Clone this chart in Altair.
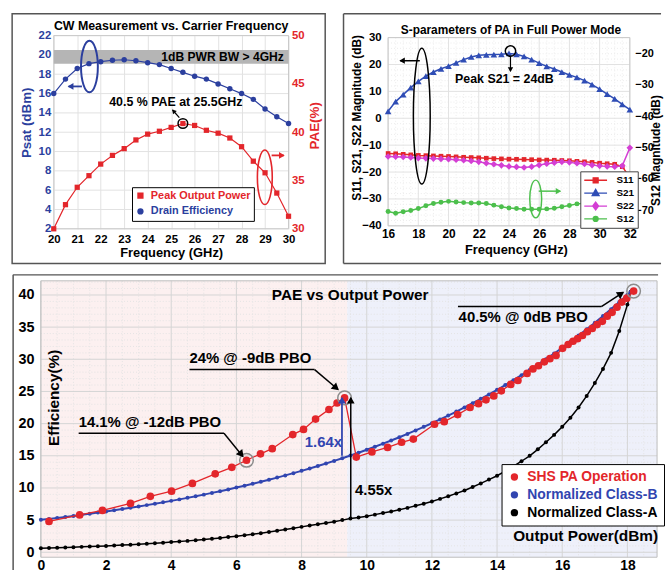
import math
import altair as alt
import pandas as pd

FONT = "Liberation Sans"
BLUE = "#2b3f9e"
RED = "#e3262b"
S21C = "#2f4db5"
MAG = "#d43fd4"
GREEN = "#4cbf4c"
BBLUE = "#3145b0"
FRAMEC = "#555555"
GRIDC = "#e2e2e2"
MINORC = "#ececec"
BOXC = "#c8c8c8"

# ---------------- data: top-left panel ----------------
tl_freq = [20.0, 20.5, 21.0, 21.5, 22.0, 22.5, 23.0, 23.5, 24.0, 24.5, 25.0,
           25.5, 26.0, 26.5, 27.0, 27.5, 28.0, 28.5, 29.0, 29.5, 30.0]
tl_psat = [16.0, 17.5, 18.6, 19.1, 19.3, 19.45, 19.5, 19.4, 19.2, 19.0, 18.6,
           18.2, 17.8, 17.5, 17.0, 16.5, 16.0, 15.4, 14.4, 13.6, 12.9]
tl_pae = [30.0, 32.5, 34.3, 35.5, 36.7, 37.6, 38.3, 39.2, 39.8, 40.1, 40.5,
          40.9, 40.7, 40.2, 39.9, 39.4, 38.5, 37.0, 35.8, 33.7, 31.3]
tl_series = ["Peak Output Power", "Drain Efficiency"]
tl_xticks = [20, 21, 22, 23, 24, 25, 26, 27, 28, 29, 30]
tl_lticks = [2, 4, 6, 8, 10, 12, 14, 16, 18, 20, 22]
tl_rticks = [30, 35, 40, 45, 50]

# ---------------- data: top-right panel ----------------
tr_freq = [16.0, 16.5, 17.0, 17.5, 18.0, 18.5, 19.0, 19.5, 20.0, 20.5, 21.0,
           21.5, 22.0, 22.5, 23.0, 23.5, 24.0, 24.5, 25.0, 25.5, 26.0, 26.5,
           27.0, 27.5, 28.0, 28.5, 29.0, 29.5, 30.0, 30.5, 31.0, 31.5, 32.0]
tr_s21 = [2.6, 6.2, 8.8, 11.4, 13.7, 15.7, 17.2, 18.4, 19.4, 20.6, 21.8,
          22.8, 23.4, 23.6, 23.7, 23.8, 24.1, 23.8, 23.0, 21.8, 20.5, 19.3,
          18.3, 17.2, 16.1, 15.2, 14.0, 12.5, 10.8, 9.0, 7.2, 5.2, 3.2]
tr_s11 = [-13.1, -13.2, -13.4, -13.6, -13.8, -13.9, -14.0, -14.1, -14.2, -14.35, -14.5,
          -14.6, -14.7, -14.85, -15.0, -15.1, -15.2, -15.25, -15.3, -15.4, -15.5, -15.55,
          -15.6, -15.7, -15.8, -16.0, -16.2, -16.4, -16.7, -16.9, -17.1, -18.0, -22.0]
tr_s22 = [-14.2, -14.3, -14.4, -14.6, -14.8, -14.9, -15.0, -15.1, -15.2, -15.4, -15.6,
          -15.9, -16.2, -16.7, -17.1, -17.5, -17.9, -18.1, -18.3, -18.0, -17.4, -16.9,
          -16.5, -16.2, -16.4, -16.7, -17.0, -17.4, -17.7, -17.9, -18.0, -17.7, -11.0]
tr_s12 = [-70.4, -71.0, -70.5, -70.1, -69.5, -68.6, -67.9, -67.5, -67.2, -67.4, -67.6,
          -67.7, -67.7, -67.9, -68.4, -68.9, -69.3, -69.5, -69.7, -69.7, -69.7, -69.6,
          -69.4, -68.9, -68.5, -68.0, -67.8, -67.4, -67.4, -67.6, -67.6, -67.5, -67.2]
tr_series = ["S11", "S21", "S22", "S12"]
tr_xticks = [16, 18, 20, 22, 24, 26, 28, 30, 32]
tr_lticks = [-40, -30, -20, -10, 0, 10, 20, 30]
tr_rticks = [-70, -60, -50, -40, -30, -20]

# ---------------- data: bottom panel ----------------
bot_red_x = [0.25, 1.19, 1.89, 2.75, 3.36, 4.01, 4.65, 5.35, 5.86, 6.31, 6.74, 7.10,
             7.73, 8.06, 8.43, 8.84, 9.09, 9.32, 9.68, 10.16, 10.64, 11.07, 11.43,
             12.08, 12.38, 12.79, 13.17, 13.43, 13.66, 13.90, 14.13, 14.42, 14.64,
             14.92, 15.10, 15.27, 15.45, 15.62, 15.81, 16.01, 16.18, 16.33, 16.47,
             16.62, 16.77, 16.92, 17.07, 17.23, 17.38, 17.53, 17.68, 17.83, 17.98, 18.19]
bot_red_y = [4.8, 5.8, 6.5, 7.6, 8.7, 9.5, 10.7, 12.2, 13.2, 14.3, 15.3, 16.1,
             18.3, 19.1, 20.7, 22.2, 23.2, 24.0, 14.8, 15.6, 16.3, 17.1, 17.6,
             19.9, 20.3, 21.4, 22.5, 23.1, 23.7, 24.3, 25.1, 26.1, 26.7,
             27.8, 28.5, 29.0, 29.6, 30.1, 30.6, 31.7, 32.3, 32.8, 33.2,
             33.7, 34.3, 34.8, 35.4, 35.9, 36.7, 37.3, 38.1, 38.9, 39.5, 40.6]
bot_ref_x = [i * 0.25 for i in range(73)] + [18.1]
bot_classb = [5.04, 5.19, 5.34, 5.49, 5.65, 5.82, 5.99, 6.17, 6.34, 6.53, 6.72, 6.92,
              7.12, 7.33, 7.54, 7.76, 7.99, 8.22, 8.46, 8.71, 8.96, 9.23, 9.49, 9.77,
              10.06, 10.35, 10.65, 10.96, 11.28, 11.61, 11.95, 12.30, 12.66, 13.03, 13.41, 13.80,
              14.20, 14.62, 15.04, 15.48, 15.94, 16.40, 16.88, 17.37, 17.88, 18.40, 18.94, 19.50,
              20.06, 20.65, 21.25, 21.87, 22.51, 23.17, 23.85, 24.54, 25.26, 26.00, 26.76, 27.54,
              28.34, 29.17, 30.02, 30.90, 31.80, 32.73, 33.69, 34.67, 35.68, 36.72, 37.80, 38.90,
              40.03, 40.5]
bot_classa = [0.63, 0.66, 0.70, 0.75, 0.79, 0.84, 0.89, 0.94, 0.99, 1.05, 1.12, 1.18,
              1.25, 1.33, 1.40, 1.49, 1.58, 1.67, 1.77, 1.87, 1.98, 2.10, 2.22, 2.36,
              2.50, 2.64, 2.80, 2.97, 3.14, 3.33, 3.53, 3.73, 3.95, 4.15, 4.35, 4.55,
              4.75, 5.00, 5.25, 5.42, 5.60, 5.85, 6.10, 6.35, 6.60, 6.90, 7.22, 7.55,
              7.90, 8.30, 8.70, 9.15, 9.60, 10.15, 10.70, 11.30, 11.90, 12.60, 13.35, 14.15,
              15.00, 16.00, 17.10, 18.25, 19.50, 20.90, 22.50, 24.30, 26.30, 28.50, 31.00, 34.40,
              38.50, 40.5]
bot_series = ["SHS PA Operation", "Normalized Class-B", "Normalized Class-A"]
bot_xticks = [0, 2, 4, 6, 8, 10, 12, 14, 16, 18]
bot_yticks = [0, 5, 10, 15, 20, 25, 30, 35, 40]


# ---------------- helpers ----------------
def lab(size, color="black", pad=3):
    return dict(labelFont=FONT, labelFontSize=size, labelFontWeight="bold",
                labelColor=color, labelPadding=pad, ticks=False, domain=False,
                labelFlush=False, labelOverlap=False)


def ttl(size, color, tx, ty, angle=0):
    return dict(titleFont=FONT, titleFontSize=size, titleFontWeight="bold",
                titleColor=color, titleAlign="center", titleBaseline="middle",
                titleX=tx, titleY=ty, titleAngle=angle)


class Ctx:
    def __init__(self, sx, sy, ax, ay, kx, ky):
        self.sx, self.sy, self.ax, self.ay, self.kx, self.ky = sx, sy, ax, ay, kx, ky

    def X(self, f):
        return alt.X(f, type="quantitative", scale=self.sx, axis=self.ax)

    def Y(self, f):
        return alt.Y(f, type="quantitative", scale=self.sy, axis=self.ay)


def one(**kw):
    return alt.Data(values=[kw])


def text_layer(c, x, y, t, size, color="black", align="center", angle=0):
    return alt.Chart(one(x=x, y=y, t=t)).mark_text(
        font=FONT, fontSize=size, fontWeight="bold", color=color, align=align,
        baseline="middle", angle=angle).encode(x=c.X("x"), y=c.Y("y"), text="t:N")


def arrow(c, x1, y1, x2, y2, color, width=1.5, head=45):
    shaft = alt.Chart(one(x=x1, y=y1, x2=x2, y2=y2)).mark_rule(
        color=color, strokeWidth=width).encode(
        x=c.X("x"), y=c.Y("y"), x2="x2:Q", y2="y2:Q")
    dx = (x2 - x1) * c.kx
    dy = -(y2 - y1) * c.ky
    n = math.hypot(dx, dy)
    ux, uy = dx / n, dy / n
    ang = math.degrees(math.atan2(dx, -dy)) % 360
    back = 0.3 * math.sqrt(head)
    hx = x2 - back * ux / c.kx
    hy = y2 + back * uy / c.ky
    tip = alt.Chart(one(x=hx, y=hy)).mark_point(
        shape="triangle-up", filled=True, color=color, size=head, angle=ang,
        opacity=1).encode(x=c.X("x"), y=c.Y("y"))
    return [shaft, tip]


def ellipse(c, xc, yc, w_px, h_px, color, width=1.8):
    a = w_px / h_px
    path = f"M0,-1A{a:.3f},1 0 1,1 0,1A{a:.3f},1 0 1,1 0,-1Z"
    return alt.Chart(one(x=xc, y=yc)).mark_point(
        shape=path, filled=False, color=color, strokeWidth=width, size=h_px ** 2,
        opacity=1).encode(x=c.X("x"), y=c.Y("y"))


def ring(c, xs, ys, color, size, width=1.5):
    return alt.Chart(pd.DataFrame({"x": xs, "y": ys})).mark_point(
        shape="circle", filled=False, color=color, size=size, strokeWidth=width,
        opacity=1).encode(x=c.X("x"), y=c.Y("y"))


def hseg(c, x1, x2, y, color="black", width=1.5):
    return alt.Chart(one(x=x1, x2=x2, y=y)).mark_rule(color=color, strokeWidth=width).encode(
        x=c.X("x"), x2="x2:Q", y=c.Y("y"))


def vrule(x0, y0, x1, y1, color=FRAMEC, width=1.5):
    return alt.Chart(one()).mark_rule(color=color, strokeWidth=width).encode(
        x=alt.value(x0), y=alt.value(y0), x2=alt.value(x1), y2=alt.value(y1))


def vgrid(c, vals, y0, y1, color, dash=None):
    kw = dict(color=color, strokeWidth=1)
    if dash:
        kw["strokeDash"] = dash
    return alt.Chart(pd.DataFrame({"g": vals})).mark_rule(**kw).encode(
        x=c.X("g"), y=alt.value(y0), y2=alt.value(y1))


def hgrid(c, vals, x0, x1, color, dash=None):
    kw = dict(color=color, strokeWidth=1)
    if dash:
        kw["strokeDash"] = dash
    return alt.Chart(pd.DataFrame({"g": vals})).mark_rule(**kw).encode(
        y=c.Y("g"), x=alt.value(x0), x2=alt.value(x1))


def rect(c, x1, x2, y1, y2, color):
    return alt.Chart(one(x=x1, x2=x2, y=y1, y2=y2)).mark_rect(color=color).encode(
        x=c.X("x"), x2="x2:Q", y=c.Y("y"), y2="y2:Q")


def box(c, x1, x2, y1, y2, color=BOXC):
    return alt.Chart(one(x=x1, x2=x2, y=y1, y2=y2)).mark_rect(
        fillOpacity=0, stroke=color, strokeWidth=1).encode(
        x=c.X("x"), x2="x2:Q", y=c.Y("y"), y2="y2:Q")


# ================= TOP-LEFT =================
# plot area origin placed 13 px left of the 20 GHz tick so that it lines up with the bottom panel
W1, H1 = 250, 195
KX1 = 237 / 10
KY1 = H1 / 20
SHIFT1 = 13
SX1 = alt.Scale(domain=[20 - SHIFT1 / KX1, 30], nice=False, zero=False)
SL1 = alt.Scale(domain=[2, 22], nice=False, zero=False)
SR1 = alt.Scale(domain=[30, 50], nice=False, zero=False)
tl_df = pd.DataFrame({"f": tl_freq, "psat": tl_psat, "pae": tl_pae})

ax_x1 = alt.Axis(values=tl_xticks, title="Frequency (GHz)", grid=True, gridColor=GRIDC,
                 **lab(11.5, pad=5), **ttl(13, "black", 131.5, 23.5))
ax_l1 = alt.Axis(values=tl_lticks, title=None, grid=False, offset=-SHIFT1, **lab(11.5, BLUE, 3))
ax_r1 = alt.Axis(values=tl_rticks, title=None, orient="right", grid=False, **lab(11.5, RED, 3))
C1 = Ctx(SX1, SL1, ax_x1, ax_l1, KX1, KY1)
C1R = Ctx(SX1, SR1, ax_x1, ax_r1, KX1, KY1)


def px1(px, py):
    """absolute reference pixel -> top-left data coords (left axis units)"""
    return 20 + (px - 53) / KX1, 22 - (py - 32) / KY1


tl_leg = alt.Legend(orient="none", legendX=92, legendY=153, title=None,
                    labelFont=FONT, labelFontSize=11, labelFontWeight="bold",
                    labelColor={"expr": f"datum.value == '{tl_series[0]}' ? '{RED}' : '{BLUE}'"},
                    strokeColor="black", fillColor="white", padding=3, rowPadding=3,
                    symbolSize=40, labelOffset=5, cornerRadius=0)

tl_left = [
    alt.Chart(one()).mark_rect(fillOpacity=0, stroke=FRAMEC, strokeWidth=1.5).encode(
        x=alt.value(-29), x2=alt.value(W1 + 37), y=alt.value(-22), y2=alt.value(H1 + 35)),
    hgrid(C1, tl_lticks, SHIFT1, W1, GRIDC),
    box(C1, 20, 30, 2, 22),
    rect(C1, 20, 30, 19.1, 20.5, "#b5b5b5"),
    text_layer(C1, 29.8, 19.8, "1dB PWR BW > 4GHz", 12.2, align="right"),
    text_layer(C1, 25.0, 22.95, "CW Measurement vs. Carrier Frequency", 12.5),
    text_layer(C1, *px1(26, 120), "Psat (dBm)", 13.5, color=BLUE, angle=270),
    text_layer(C1, *px1(317, 123), "PAE(%)", 13.5, color=RED, angle=270),
    alt.Chart(tl_df).mark_line(color=BLUE, strokeWidth=1.2).encode(x=C1.X("f"), y=C1.Y("psat")),
    alt.Chart(tl_df).mark_point(shape="circle", filled=True, color=BLUE, size=30, opacity=1).encode(
        x=C1.X("f"), y=C1.Y("psat")),
    text_layer(C1, 25.2, 15.1, "40.5 % PAE at 25.5GHz", 12.5),
    ellipse(C1, 21.52, 18.8, 17, 52, BLUE, 2),
    ellipse(C1, 28.99, 7.33, 15, 55, RED, 1.6),
    *arrow(C1, 21.2, 16.74, 20.63, 16.74, BLUE, 1.8, 45),
    *arrow(C1, 29.28, 9.6, 29.8, 9.6, RED, 1.8, 45),
    *arrow(C1, 25.35, 13.5, 25.06, 14.3, "black", 1.2, 25),
    alt.Chart(pd.DataFrame({"s": tl_series})).transform_filter("false").mark_point(
        filled=True, opacity=1, size=40).encode(
        fill=alt.Fill("s:N", scale=alt.Scale(domain=tl_series, range=[RED, BLUE]), legend=tl_leg),
        shape=alt.Shape("s:N", scale=alt.Scale(domain=tl_series, range=["square", "circle"]),
                        legend=tl_leg)),
]
tl_right = [
    alt.Chart(tl_df).mark_line(color=RED, strokeWidth=1.2).encode(x=C1R.X("f"), y=C1R.Y("pae")),
    alt.Chart(tl_df).mark_point(shape="square", filled=True, color=RED, size=28, opacity=1).encode(
        x=C1R.X("f"), y=C1R.Y("pae")),
    ring(C1R, [25.5], [40.9], "black", 95, 1.5),
]
tl_chart = alt.layer(alt.layer(*tl_left), alt.layer(*tl_right)).resolve_scale(
    y="independent").properties(width=W1, height=H1)

# ================= TOP-RIGHT =================
# plot area starts 2 px above the 30 dB line so that its top aligns with the left panel
W2, H2 = 244, 192
X0_2 = 388
KX2 = W2 / 16
KL2 = 190 / 70
KR2 = 190 / 60
YTOP2 = 30 + 2 / KL2
SX2 = alt.Scale(domain=[16, 32], nice=False, zero=False)
SL2 = alt.Scale(domain=[-40, YTOP2], nice=False, zero=False)
SR2 = alt.Scale(domain=[-75, -15 + 2 / KR2], nice=False, zero=False)
tr_df = pd.DataFrame({"f": tr_freq, "S11": tr_s11, "S21": tr_s21, "S22": tr_s22, "S12": tr_s12})

ax_x2 = alt.Axis(values=tr_xticks, title="Frequency (GHz)", grid=False,
                 **lab(12, pad=3), **ttl(13, "black", 129, 23.5))
ax_l2 = alt.Axis(values=tr_lticks, title=None, grid=False, **lab(11.5, pad=7))
ax_r2 = alt.Axis(values=tr_rticks, title=None, orient="right", grid=False, **lab(11, pad=5))
C2 = Ctx(SX2, SL2, ax_x2, ax_l2, KX2, KL2)
C2R = Ctx(SX2, SR2, ax_x2, ax_r2, KX2, KR2)


def px2(px, py):
    """absolute reference pixel -> top-right data coords (left axis units)"""
    return 16 + (px - X0_2) / KX2, YTOP2 - (py - 32) / KL2


tr_paths = [
    "M-2.3,0H2.3M-0.5,-0.5H0.5V0.5H-0.5Z",
    "M-2.3,0H2.3M0,-0.75L0.7,0.5H-0.7Z",
    "M-2.3,0H2.3M0,-0.8L0.6,0L0,0.8L-0.6,0Z",
    "M-2.3,0H2.3M-0.5,0A0.5,0.5 0 1,1 0.5,0A0.5,0.5 0 1,1 -0.5,0Z",
]
tr_colors = [RED, S21C, MAG, GREEN]
tr_leg = alt.Legend(orient="none", legendX=582 - X0_2, legendY=137, title=None,
                    labelFont=FONT, labelFontSize=10, labelFontWeight="bold",
                    labelColor="black", strokeColor="#444444", fillColor="white",
                    padding=3, rowPadding=0, symbolSize=100, symbolOffset=6.5,
                    labelOffset=15, symbolStrokeWidth=1.3, cornerRadius=0)

minor_x2 = [16 + 0.5 * i for i in range(33) if i % 4]
minor_y2 = [-40 + 2 * i for i in range(36) if i % 5]
FL2 = 343 - X0_2

tr_left = [
    vrule(FL2, -22, FL2, H2 + 38),
    vrule(FL2, -22, 663.5 - X0_2, -22),
    vrule(FL2, H2 + 38, 663.5 - X0_2, H2 + 38),
    vgrid(C2, minor_x2, 2, H2, MINORC, [1, 2]),
    hgrid(C2, minor_y2, 0, W2, MINORC, [1, 2]),
    vgrid(C2, tr_xticks, 2, H2, GRIDC),
    hgrid(C2, tr_lticks, 0, W2, GRIDC),
    box(C2, 16, 32, -40, 30),
    text_layer(C2, *px2(512, 26), "S-parameters of PA in Full Power Mode", 12),
    text_layer(C2, *px2(357, 115), "S11, S21, S22 Magnitude (dB)", 12, angle=270),
    text_layer(C2, *px2(658, 148), "S12 Magnitude (dB)", 12, angle=270),
    alt.Chart(tr_df).mark_line(color=S21C, strokeWidth=1.5).encode(x=C2.X("f"), y=C2.Y("S21")),
    alt.Chart(tr_df).mark_line(color=RED, strokeWidth=1.5).encode(x=C2.X("f"), y=C2.Y("S11")),
    alt.Chart(tr_df).mark_line(color=MAG, strokeWidth=1.5).encode(x=C2.X("f"), y=C2.Y("S22")),
    alt.Chart(tr_df).mark_point(shape="square", filled=True, color=RED, size=22, opacity=1).encode(
        x=C2.X("f"), y=C2.Y("S11")),
    alt.Chart(tr_df).mark_point(shape="diamond", filled=True, color=MAG, size=45, opacity=1).encode(
        x=C2.X("f"), y=C2.Y("S22")),
    alt.Chart(tr_df).mark_point(shape="triangle-up", filled=True, color=S21C, size=45, opacity=1).encode(
        x=C2.X("f"), y=C2.Y("S21")),
    ring(C2, [24.1], [25.0], "black", 110, 1.5),
    *arrow(C2, 24.1, 23.0, 24.1, 17.5, "black", 1.2, 30),
    text_layer(C2, 23.7, 14.5, "Peak S21 = 24dB", 12.5),
    ellipse(C2, 18.23, 0.8, 17, 137, "black", 1.5),
    *arrow(C2, 18.1, 21.4, 16.8, 21.4, "black", 1.5, 40),
    ellipse(C2, 25.77, -30.0, 12, 38, GREEN, 1.5),
    *arrow(C2, 25.97, -27.1, 27.4, -27.1, GREEN, 1.5, 40),
    alt.Chart(pd.DataFrame({"s": tr_series})).transform_filter("false").mark_point(
        filled=True, opacity=1, size=100, strokeWidth=1.3).encode(
        fill=alt.Fill("s:N", scale=alt.Scale(domain=tr_series, range=tr_colors), legend=tr_leg),
        stroke=alt.Stroke("s:N", scale=alt.Scale(domain=tr_series, range=tr_colors), legend=tr_leg),
        shape=alt.Shape("s:N", scale=alt.Scale(domain=tr_series, range=tr_paths), legend=tr_leg)),
]
tr_right = [
    alt.Chart(tr_df).mark_line(color=GREEN, strokeWidth=1.5).encode(x=C2R.X("f"), y=C2R.Y("S12")),
    alt.Chart(tr_df).mark_point(shape="circle", filled=True, color=GREEN, size=25, opacity=1).encode(
        x=C2R.X("f"), y=C2R.Y("S12")),
]
tr_chart = alt.layer(alt.layer(*tr_left), alt.layer(*tr_right)).resolve_scale(
    y="independent").properties(width=W2, height=H2)

# ================= BOTTOM =================
W3, H3 = 622, 279
XD3 = [0, 18.91]
YD3 = [-0.77, 42.2]
SX3 = alt.Scale(domain=XD3, nice=False, zero=False)
SY3 = alt.Scale(domain=YD3, nice=False, zero=False)
ax_x3 = alt.Axis(values=bot_xticks, title=None, grid=False, **lab(14, pad=1.5))
ax_y3 = alt.Axis(values=bot_yticks, title=None, grid=False, **lab(14.5, pad=7))
C3 = Ctx(SX3, SY3, ax_x3, ax_y3, W3 / (XD3[1] - XD3[0]), H3 / (YD3[1] - YD3[0]))

red_df = pd.DataFrame({"x": bot_red_x, "y": bot_red_y, "i": list(range(len(bot_red_x)))})
ref_df = pd.DataFrame({"x": bot_ref_x, "b": bot_classb, "a": bot_classa})

bot_leg = alt.Legend(orient="none", legendX=465, legendY=185, title=None,
                     labelFont=FONT, labelFontSize=14, labelFontWeight="bold",
                     labelColor={"expr": f"datum.value == '{bot_series[0]}' ? '{RED}' : "
                                         f"datum.value == '{bot_series[1]}' ? '{BBLUE}' : 'black'"},
                     strokeColor="black", fillColor="white", padding=6, rowPadding=4,
                     symbolSize=55, labelOffset=6, cornerRadius=0)

minor_x3 = [0.5 * i for i in range(38) if i % 4]
minor_y3 = [float(i) for i in range(43) if i % 5]

bot_layers = [
    vrule(-28, -6, -28, H3 + 13),
    vrule(-28, -6, W3 + 1, -6),
    rect(C3, 0, 9.4, YD3[0], YD3[1], "#fcf0f0"),
    rect(C3, 9.4, XD3[1], YD3[0], YD3[1], "#eef0fa"),
    vgrid(C3, minor_x3, 0, H3, "#e4e4e4", [1, 2]),
    hgrid(C3, minor_y3, 0, W3, "#e4e4e4", [1, 2]),
    vgrid(C3, bot_xticks, 0, H3, "#d4d4d4"),
    hgrid(C3, bot_yticks, 0, W3, "#d4d4d4"),
    box(C3, XD3[0], XD3[1], YD3[0], YD3[1], "#bdbdbd"),
    alt.Chart(ref_df).mark_line(color="black", strokeWidth=1.5).encode(x=C3.X("x"), y=C3.Y("a")),
    alt.Chart(ref_df).mark_point(shape="circle", filled=True, color="black", size=16, opacity=1).encode(
        x=C3.X("x"), y=C3.Y("a")),
    alt.Chart(ref_df).mark_line(color=BBLUE, strokeWidth=2).encode(x=C3.X("x"), y=C3.Y("b")),
    alt.Chart(ref_df).mark_point(shape="circle", filled=True, color=BBLUE, size=16, opacity=1).encode(
        x=C3.X("x"), y=C3.Y("b")),
    alt.Chart(red_df).mark_line(color=RED, strokeWidth=1.3).encode(
        x=C3.X("x"), y=C3.Y("y"), order="i:Q"),
    alt.Chart(red_df).mark_point(shape="circle", filled=True, color=RED, size=60, opacity=1).encode(
        x=C3.X("x"), y=C3.Y("y")),
    ring(C3, [6.31, 9.32, 18.19], [14.3, 24.0, 40.6], "#8c8c8c", 190, 1.5),
    hseg(C3, 12.8, 17.2, 38.2),
    *arrow(C3, 17.2, 38.2, 17.87, 40.4, "black", 1.5, 70),
    text_layer(C3, 12.82, 36.6, "40.5% @ 0dB PBO", 15, align="left"),
    hseg(C3, 4.56, 8.4, 28.4),
    *arrow(C3, 8.4, 28.4, 9.12, 25.3, "black", 1.5, 70),
    text_layer(C3, 4.56, 30.2, "24% @ -9dB PBO", 15, align="left"),
    hseg(C3, 1.16, 5.62, 18.5),
    *arrow(C3, 5.62, 18.5, 6.2, 14.9, "black", 1.5, 70),
    text_layer(C3, 1.16, 20.2, "14.1% @ -12dB PBO", 15, align="left"),
    *arrow(C3, 9.24, 15.0, 9.24, 24.0, BBLUE, 1.8, 60),
    *arrow(C3, 9.51, 5.3, 9.51, 24.0, "black", 1.5, 60),
    text_layer(C3, 8.67, 17.1, "1.64x", 15, color=BBLUE),
    text_layer(C3, 9.64, 9.7, "4.55x", 15, align="left"),
    text_layer(C3, 9.49, 40.0, "PAE vs Output Power", 15.5),
    text_layer(C3, 18.94, 2.46, "Output Power(dBm)", 15.5, align="right"),
    text_layer(C3, 0.4, 24.0, "Efficiency(%)", 15.5, angle=270),
    alt.Chart(pd.DataFrame({"s": bot_series})).transform_filter("false").mark_point(
        filled=True, opacity=1, size=55, shape="circle").encode(
        fill=alt.Fill("s:N", scale=alt.Scale(domain=bot_series, range=[RED, BBLUE, "black"]),
                      legend=bot_leg)),
]
bot_chart = alt.layer(*bot_layers).properties(width=W3, height=H3)

top_row = alt.hconcat(tl_chart, tr_chart, spacing=14.5, bounds="full").resolve_scale(
    fill="independent", stroke="independent", shape="independent")
chart = alt.vconcat(top_row, bot_chart, spacing=7.5, bounds="full").resolve_scale(
    fill="independent", stroke="independent", shape="independent"
).properties(
    padding={"left": 10.25, "top": 9.25, "right": 0, "bottom": 0},
    background="white",
).configure_view(stroke="transparent")

chart.save("out.html", embed_options={"renderer": "svg", "actions": False})
